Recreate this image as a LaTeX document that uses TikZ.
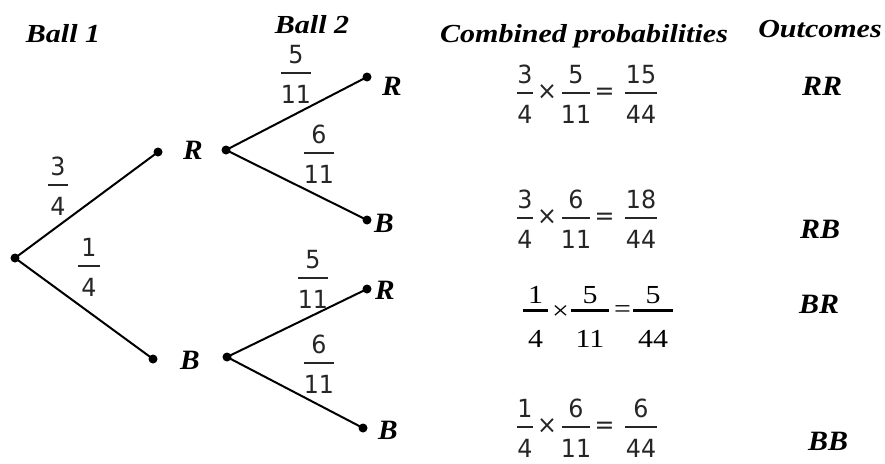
\documentclass[tikz,border=0pt]{standalone}
\usepackage{fontspec}
\setmainfont{Liberation Serif}
\newfontfamily\sansf{DejaVu Sans}
\tikzset{
  dot/.style={circle,fill=black,inner sep=0pt,minimum size=9pt},
  branch/.style={line width=2pt},
  fbar/.style={line width=1.8pt,draw=black!85},
  tfbar/.style={line width=3pt},
  head/.style={font=\fontsize{26}{28}\selectfont\bfseries\itshape,anchor=base,inner sep=0pt,xscale=1.155},
  lab/.style={font=\fontsize{28}{28}\selectfont\bfseries\itshape,inner sep=0pt,xscale=1.05},
  outc/.style={font=\fontsize{28}{28}\selectfont\bfseries\itshape,inner sep=0pt,xscale=1.07},
  sfnum/.style={font=\sansf\fontsize{25}{28}\selectfont,text=black!85,anchor=base,inner sep=0pt,xscale=0.95},
  sfop/.style={font=\sansf\fontsize{25}{28}\selectfont,text=black!85,inner sep=0pt,xscale=0.95},
  tfnum/.style={font=\fontsize{26}{28}\selectfont,anchor=base,inner sep=0pt,xscale=1.15},
  tfop/.style={font=\fontsize{26}{28}\selectfont,inner sep=0pt,xscale=1.15},
}
% sans fraction: name, x, bar y, num, den, half width
\newcommand\pfrac[6]{%
  \node[sfnum] (#1n) at (#2,#3-10) {#4};
  \draw[fbar] (#2-#6,#3) -- (#2+#6,#3);
  \node[sfnum] (#1d) at (#2,#3+30) {#5};}
% serif fraction
\newcommand\tmfrac[6]{%
  \node[tfnum] (#1n) at (#2,#3-7) {#4};
  \draw[tfbar] (#2-#6,#3) -- (#2+#6,#3);
  \node[tfnum] (#1d) at (#2,#3+37) {#5};}
\begin{document}
\begin{tikzpicture}[x=1pt,y=-1pt]
\useasboundingbox (0,0) rectangle (885,463);
% headers
\node[head] (h1) at (63,42) {Ball 1};
\node[head] (h2) at (312,33) {Ball 2};
\node[head] (h3) at (584,42) {Combined probabilities};
\node[head] (h4) at (820,37) {Outcomes};
% tree
\node[dot] (root) at (15,258) {};
\node[dot] (r1) at (158,152) {};
\node[dot] (b1) at (153,359) {};
\node[dot] (r1s) at (226,150) {};
\node[dot] (b1s) at (227,357) {};
\node[dot] (rr) at (367,77) {};
\node[dot] (rb) at (367,220) {};
\node[dot] (br) at (367,289) {};
\node[dot] (bb) at (363,428) {};
\draw[branch] (root.center) -- (r1.center);
\draw[branch] (root.center) -- (b1.center);
\draw[branch] (r1s.center) -- (rr.center);
\draw[branch] (r1s.center) -- (rb.center);
\draw[branch] (b1s.center) -- (br.center);
\draw[branch] (b1s.center) -- (bb.center);
% letter labels
\node[lab] (lr1) at (193,150) {R};
\node[lab] (lb1) at (190,360) {B};
\node[lab] (lrr) at (392,86) {R};
\node[lab] (lrb) at (384,223) {B};
\node[lab] (lbr) at (385,290) {R};
\node[lab] (lbb) at (388,430) {B};
% branch probabilities
\pfrac{fa}{58}{185}{3}{4}{10}
\pfrac{fb}{89}{266}{1}{4}{11}
\pfrac{fc}{296}{73}{5}{11}{15}
\pfrac{fd}{319}{153}{6}{11}{15}
\pfrac{fe}{313}{278}{5}{11}{15}
\pfrac{ff}{319}{363}{6}{11}{15}
% combined probabilities
\pfrac{ea}{525}{93}{3}{4}{8}
\node[sfop] (xa) at (547,92) {×};
\pfrac{eb}{576}{93}{5}{11}{14}
\node[sfop] (qa) at (604.5,94) {=};
\pfrac{ec}{641}{93}{15}{44}{16}
\pfrac{ed}{525}{218}{3}{4}{8}
\node[sfop] (xb) at (547,217) {×};
\pfrac{ee}{576}{218}{6}{11}{14}
\node[sfop] (qb) at (604.5,219) {=};
\pfrac{ef}{641}{218}{18}{44}{16}
\tmfrac{ga}{535.5}{310}{1}{4}{12.5}
\node[tfop] (xc) at (560.5,313) {×};
\tmfrac{gb}{590}{310}{5}{11}{19}
\node[tfop] (qc) at (622.5,312) {=};
\tmfrac{gc}{653}{310}{5}{44}{20}
\pfrac{ha}{525}{427}{1}{4}{8}
\node[sfop] (xd) at (547,426) {×};
\pfrac{hb}{576}{427}{6}{11}{14}
\node[sfop] (qd) at (604.5,428) {=};
\pfrac{hc}{641}{427}{6}{44}{16}
% outcomes
\node[outc] (orr) at (822,86) {RR};
\node[outc] (orb) at (820,229) {RB};
\node[outc] (obr) at (819,304) {BR};
\node[outc] (obb) at (828,441) {BB};
\end{tikzpicture}
\end{document}
